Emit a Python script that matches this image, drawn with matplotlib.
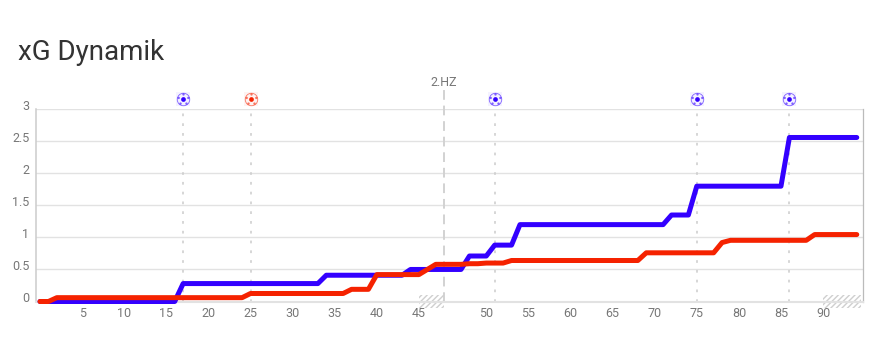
import numpy as np

import matplotlib
matplotlib.use('Agg')
import matplotlib.pyplot as plt
from matplotlib.patches import Rectangle
from matplotlib.path import Path
from matplotlib.transforms import ScaledTranslation, blended_transform_factory

plt.rcParams['font.family'] = ['Roboto', 'DejaVu Sans']
plt.rcParams['hatch.linewidth'] = 1.0

# minute slots: 0-45, three slots of first half stoppage, 46-94
slots = list(range(98))
x_tick_minutes = [5, 10, 15, 20, 25, 30, 35, 40, 45, 50, 55, 60, 65, 70, 75, 80, 85, 90]
y_ticks = [0, 0.5, 1, 1.5, 2, 2.5, 3]
y_tick_labels = ['0', '0.5', '1', '1.5', '2', '2.5', '3']

xg_blue = ([0] * 17 + [0.28] * 17 + [0.41] * 10 + [0.5] * 7 + [0.71] * 3 + [0.88] * 3
           + [1.2] * 18 + [1.35] * 3 + [1.8] * 11 + [2.56] * 9)
xg_red = ([0] * 2 + [0.06] * 23 + [0.125] * 12 + [0.19] * 3 + [0.42] * 6 + [0.5] + [0.58] * 4
          + [0.59] * 2 + [0.6] * 3 + [0.64] * 16 + [0.76] * 9 + [0.92] + [0.955] * 10 + [1.045] * 6)

goals_blue = [17, 51, 75, 86]
goals_red = [25]
halftime_slot = 48
stoppage_spans = [(45, 48), (93, 97.5)]

BLUE = '#3300ff'
RED = '#f52200'
GRID = '#e2e2e2'
TEXT = '#777777'
GUIDE = '#cccccc'


def slot_of(minute):
    """Minutes after the break sit three slots further right."""
    return minute if minute <= 45 else minute + 3


def ball_marker():
    """Small dots around the centre of the football icon."""
    dots = []
    for angle in np.deg2rad([18, 90, 162, 234, 306]):
        dot = Path.unit_circle()
        dots.append(Path(dot.vertices * 0.16 + [0.68 * np.cos(angle), 0.68 * np.sin(angle)], dot.codes))
    return Path.make_compound_path(*dots)


def draw_goals(ax, minutes, color):
    xs = [slot_of(m) for m in minutes]
    for x in xs:
        ax.plot([x, x], [0, 2.94], color=GUIDE, linewidth=1.1, linestyle=(0, (1.8, 4.6)), zorder=1)
    trans = blended_transform_factory(ax.transData, ax.transAxes)
    y = [(301.5 - 99) / 192.2] * len(xs)
    ax.plot(xs, y, 's', transform=trans, clip_on=False, markersize=9.5, markerfacecolor=color,
            markeredgewidth=0, alpha=0.05, zorder=5)
    ax.plot(xs, y, 'o', transform=trans, clip_on=False, markersize=9, markerfacecolor='none',
            markeredgecolor=color, markeredgewidth=0.6, alpha=0.6, zorder=5)
    ax.plot(xs, y, linestyle='none', marker=ball_marker(), transform=trans, clip_on=False, markersize=9,
            markerfacecolor=color, markeredgewidth=0, alpha=0.6, zorder=6)
    ax.plot(xs, y, 'o', transform=trans, clip_on=False, markersize=3.4, markerfacecolor=color,
            markeredgewidth=0, zorder=6)


fig = plt.figure(figsize=(8.94, 3.63), dpi=100)
ax = fig.add_axes([36 / 894, 1 - 301.5 / 363, 827 / 894, 192.2 / 363])

ax.spines['top'].set_visible(False)
ax.spines['left'].set_color('#cccccc')
ax.spines['left'].set_linewidth(1.1)
ax.spines['right'].set_color('#bbbbbb')
ax.spines['right'].set_linewidth(0.9)
ax.spines['bottom'].set_color(GRID)
ax.spines['bottom'].set_linewidth(1.5)

ax.set_xlim(-0.475, 97.74)
ax.set_ylim(0, 3)
ax.grid(True, axis='y', color=GRID, linewidth=1.0, zorder=0)
ax.set_axisbelow(True)

ax.set_yticks(y_ticks, y_tick_labels)
ax.set_xticks([slot_of(m) for m in x_tick_minutes], [str(m) for m in x_tick_minutes])
ax.tick_params(axis='both', length=0, labelsize=9, labelcolor=TEXT)
ax.tick_params(axis='y', pad=4.8)
ax.tick_params(axis='x', pad=4.2)
shift = ScaledTranslation(0, 3.2 / 72, fig.dpi_scale_trans)
for label in ax.get_yticklabels():
    label.set_transform(label.get_transform() + shift)

# hatched stoppage time blocks hang over the x axis
hatch_trans = blended_transform_factory(ax.transData, ax.transAxes)
for start, end in stoppage_spans:
    ax.add_patch(Rectangle((start, -6.2 / 192.2), end - start, 12.7 / 192.2, transform=hatch_trans,
                           fill=False, hatch='//////', edgecolor='#cfcfcf', linewidth=0,
                           clip_on=False, zorder=2))

draw_goals(ax, goals_blue, BLUE)
draw_goals(ax, goals_red, RED)

# halftime marker reaches above the plot
ax.plot([halftime_slot, halftime_slot], [0, 3.3], color='#d2d2d2', linewidth=1.4, linestyle=(0, (5, 3)),
        clip_on=False, zorder=1)
ax.text(halftime_slot, 3.32, '2.HZ', color=TEXT, fontsize=9, ha='center', va='bottom')

ax.plot(slots, xg_blue, color=BLUE, linewidth=3.6, solid_capstyle='round', solid_joinstyle='round',
        clip_on=False, zorder=3)
ax.plot(slots, xg_red, color=RED, linewidth=3.6, solid_capstyle='round', solid_joinstyle='round',
        clip_on=False, zorder=4)

fig.text(18 / 894, 1 - 52.5 / 363, 'xG Dynamik', color='#333333', fontsize=20, ha='left', va='center')

fig.savefig('out.png', dpi=100, facecolor='white')
plt.close(fig)
